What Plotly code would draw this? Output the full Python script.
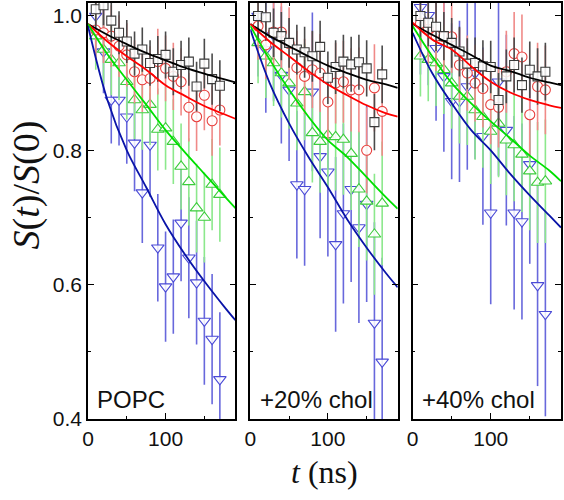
import plotly.graph_objects as go

# ---------------- data ----------------
t_pts = [10, 20, 30, 40, 50, 60, 70, 80, 90, 100, 110, 120, 130, 140, 150, 160, 170]
t_fit = [0, 25, 50, 75, 100, 125, 150, 175, 190]

panel_labels = ["POPC", "+20% chol", "+40% chol"]

# Panel 1: POPC
p1_black = [1.01, 1.016, 0.993, 0.975, 0.962, 0.944, 0.950, 0.930, 0.936, 0.942, 0.917, 0.927, 0.932, 0.895, 0.929, 0.906, 0.896]
p1_red = [0.979, 0.975, 0.970, 0.955, 0.942, 0.917, 0.905, 0.907, 0.932, 0.922, 0.910, 0.902, 0.864, 0.850, 0.882, 0.844, 0.860]
p1_green = [0.970, 0.950, 0.935, 0.930, 0.902, 0.875, 0.860, 0.868, 0.831, 0.833, 0.813, 0.776, 0.753, 0.714, 0.700, 0.749, 0.734]
p1_blue = [1.000, 0.947, 0.875, 0.875, 0.850, 0.811, 0.737, 0.808, 0.655, 0.597, 0.612, 0.692, 0.640, 0.603, 0.546, 0.519, 0.459]
p1_black_err = [0.030, 0.030, 0.031, 0.032, 0.032, 0.033, 0.033, 0.034, 0.034, 0.035, 0.035, 0.036, 0.036, 0.037, 0.037, 0.038, 0.038]
p1_red_err = [0.045, 0.045, 0.046, 0.046, 0.047, 0.047, 0.048, 0.048, 0.049, 0.049, 0.050, 0.050, 0.051, 0.051, 0.052, 0.052, 0.053]
p1_green_err = [0.050, 0.052, 0.053, 0.055, 0.056, 0.058, 0.059, 0.060, 0.061, 0.062, 0.063, 0.064, 0.065, 0.066, 0.067, 0.068, 0.070]
p1_blue_err = [0.060, 0.062, 0.065, 0.068, 0.070, 0.072, 0.075, 0.077, 0.080, 0.082, 0.085, 0.087, 0.090, 0.092, 0.095, 0.097, 0.100]
p1_black_fit = [0.988, 0.972, 0.958, 0.945, 0.934, 0.923, 0.914, 0.906, 0.901]
p1_red_fit = [0.988, 0.962, 0.940, 0.920, 0.897, 0.881, 0.866, 0.854, 0.847]
p1_green_fit = [0.988, 0.943, 0.905, 0.868, 0.830, 0.797, 0.765, 0.733, 0.714]
p1_blue_fit = [0.985, 0.875, 0.800, 0.745, 0.690, 0.645, 0.605, 0.568, 0.547]

# Panel 2: +20% chol
p2_black = [1.000, 0.998, 0.975, 0.970, 0.960, 0.950, 0.946, 0.940, 0.954, 0.908, 0.924, 0.932, 0.928, 0.931, 0.922, 0.842, 0.913]
p2_red = [0.985, 0.957, 0.976, 0.976, 0.959, 0.923, 0.910, 0.920, 0.915, 0.872, 0.900, 0.902, 0.890, 0.890, 0.800, 0.893, 0.858]
p2_green = [0.960, 0.940, 0.930, 0.915, 0.900, 0.870, 0.887, 0.826, 0.813, 0.823, 0.820, 0.816, 0.795, 0.742, 0.724, 0.675, 0.721]
p2_blue = [1.000, 0.950, 0.971, 0.912, 0.890, 0.749, 0.742, 0.887, 0.791, 0.768, 0.660, 0.706, 0.742, 0.685, 0.720, 0.543, 0.485]
p2_black_err = [0.035, 0.035, 0.036, 0.036, 0.037, 0.037, 0.038, 0.038, 0.039, 0.039, 0.040, 0.040, 0.041, 0.041, 0.042, 0.042, 0.043]
p2_red_err = [0.050, 0.051, 0.052, 0.053, 0.054, 0.055, 0.056, 0.057, 0.058, 0.059, 0.060, 0.061, 0.062, 0.063, 0.064, 0.065, 0.066]
p2_green_err = [0.060, 0.062, 0.064, 0.066, 0.068, 0.070, 0.072, 0.074, 0.076, 0.078, 0.080, 0.082, 0.084, 0.086, 0.088, 0.090, 0.092]
p2_blue_err = [0.090, 0.094, 0.098, 0.102, 0.106, 0.110, 0.114, 0.118, 0.122, 0.126, 0.130, 0.134, 0.138, 0.142, 0.146, 0.150, 0.155]
p2_black_fit = [0.988, 0.970, 0.955, 0.940, 0.926, 0.915, 0.905, 0.898, 0.893]
p2_red_fit = [0.988, 0.962, 0.940, 0.918, 0.898, 0.882, 0.867, 0.855, 0.850]
p2_green_fit = [0.985, 0.935, 0.890, 0.850, 0.815, 0.790, 0.760, 0.730, 0.713]
p2_blue_fit = [0.980, 0.900, 0.840, 0.790, 0.745, 0.697, 0.655, 0.617, 0.596]

# Panel 3: +40% chol
p3_black = [1.000, 0.990, 0.984, 0.970, 0.960, 0.947, 0.929, 0.930, 0.925, 0.924, 0.875, 0.910, 0.927, 0.897, 0.920, 0.910, 0.917]
p3_red = [0.989, 0.980, 0.970, 0.969, 0.969, 0.927, 0.915, 0.900, 0.892, 0.868, 0.864, 0.917, 0.944, 0.939, 0.853, 0.895, 0.890]
p3_green = [0.940, 0.935, 0.930, 0.920, 0.900, 0.880, 0.880, 0.860, 0.850, 0.828, 0.840, 0.815, 0.808, 0.794, 0.769, 0.752, 0.754]
p3_blue = [1.013, 1.001, 0.952, 0.910, 0.873, 0.873, 0.895, 0.915, 0.821, 0.707, 0.902, 0.830, 0.707, 0.694, 0.779, 0.599, 0.556]
p3_black_err = [0.035, 0.035, 0.036, 0.036, 0.037, 0.037, 0.038, 0.038, 0.039, 0.039, 0.040, 0.040, 0.041, 0.041, 0.042, 0.042, 0.043]
p3_red_err = [0.050, 0.051, 0.052, 0.053, 0.054, 0.055, 0.056, 0.057, 0.058, 0.059, 0.060, 0.061, 0.062, 0.063, 0.064, 0.065, 0.066]
p3_green_err = [0.060, 0.062, 0.064, 0.066, 0.068, 0.070, 0.072, 0.074, 0.076, 0.078, 0.080, 0.082, 0.084, 0.086, 0.088, 0.090, 0.092]
p3_blue_err = [0.100, 0.104, 0.108, 0.112, 0.116, 0.120, 0.124, 0.128, 0.132, 0.136, 0.140, 0.142, 0.144, 0.146, 0.148, 0.150, 0.152]
p3_black_fit = [0.988, 0.972, 0.957, 0.942, 0.926, 0.918, 0.908, 0.901, 0.897]
p3_red_fit = [0.990, 0.965, 0.950, 0.925, 0.902, 0.886, 0.875, 0.867, 0.863]
p3_green_fit = [0.985, 0.940, 0.900, 0.870, 0.843, 0.818, 0.792, 0.770, 0.754]
p3_blue_fit = [0.975, 0.915, 0.870, 0.830, 0.800, 0.765, 0.733, 0.703, 0.685]

# ---------------- styles ----------------
series_style = {
    "black": dict(symbol="square", mcol="#3a3a3a", ecol="#4a4a4a", lcol="#000000", size=9),
    "red": dict(symbol="circle", mcol="#e8413f", ecol="#f08a88", lcol="#ff0000", size=10),
    "green": dict(symbol="triangle-up", mcol="#3ccc3c", ecol="#8ce88c", lcol="#00e000", size=11),
    "blue": dict(symbol="triangle-down", mcol="#4a4ad6", ecol="#6868dc", lcol="#0a14a8", size=11),
}

panels = [
    dict(pts={"black": (p1_black, p1_black_err), "red": (p1_red, p1_red_err),
              "green": (p1_green, p1_green_err), "blue": (p1_blue, p1_blue_err)},
         fits={"black": p1_black_fit, "red": p1_red_fit, "green": p1_green_fit, "blue": p1_blue_fit}),
    dict(pts={"black": (p2_black, p2_black_err), "red": (p2_red, p2_red_err),
              "green": (p2_green, p2_green_err), "blue": (p2_blue, p2_blue_err)},
         fits={"black": p2_black_fit, "red": p2_red_fit, "green": p2_green_fit, "blue": p2_blue_fit}),
    dict(pts={"black": (p3_black, p3_black_err), "red": (p3_red, p3_red_err),
              "green": (p3_green, p3_green_err), "blue": (p3_blue, p3_blue_err)},
         fits={"black": p3_black_fit, "red": p3_red_fit, "green": p3_green_fit, "blue": p3_blue_fit}),
]

W, H = 564, 500
ML, MR, MT, MB = 88, 1, 1, 81
pw = W - ML - MR
ph = H - MT - MB
px_left = [88, 251, 414]
px_right = [236, 399, 563]
domains = [[(l - ML) / pw, (r - ML) / pw] for l, r in zip(px_left, px_right)]

fig = go.Figure()
order = ["blue", "green", "red", "black"]
for i, p in enumerate(panels):
    xa = "x" if i == 0 else f"x{i+1}"
    ya = "y" if i == 0 else f"y{i+1}"
    for name in order:
        st = series_style[name]
        s, e = p["pts"][name]
        fig.add_trace(go.Scatter(
            x=t_pts, y=s, mode="markers", xaxis=xa, yaxis=ya, showlegend=False,
            marker=dict(symbol=st["symbol"], size=st["size"], color="rgba(255,255,255,0.85)",
                        line=dict(color=st["mcol"], width=1.1)),
            error_y=dict(type="data", array=e, visible=True, color=st["ecol"], thickness=1.6, width=0),
        ))
    for name in ["black", "red", "green", "blue"]:
        st = series_style[name]
        fig.add_trace(go.Scatter(
            x=t_fit, y=p["fits"][name], mode="lines", xaxis=xa, yaxis=ya, showlegend=False,
            line=dict(color=st["lcol"], width=1.8, shape="spline"),
        ))

tick_font = dict(family="Liberation Sans, Arial, sans-serif", size=21, color="#111")
for i in range(3):
    xk = "xaxis" if i == 0 else f"xaxis{i+1}"
    yk = "yaxis" if i == 0 else f"yaxis{i+1}"
    anchor_y = "y" if i == 0 else f"y{i+1}"
    anchor_x = "x" if i == 0 else f"x{i+1}"
    fig.layout[xk] = dict(
        domain=domains[i], anchor=anchor_y, range=[0, 190], tick0=0, dtick=100,
        ticks="inside", ticklen=6, tickwidth=1.2, tickcolor="#000",
        showline=True, linecolor="#000", linewidth=1.5, mirror="ticks",
        showgrid=False, zeroline=False, tickfont=tick_font,
        minor=dict(dtick=50, tick0=0, ticks="inside", ticklen=3, tickwidth=1.2, tickcolor="#000", showgrid=False),
    )
    fig.layout[yk] = dict(
        domain=[0, 1], anchor=anchor_x, range=[0.4, 1.0193], tick0=0.4, dtick=0.2,
        ticks="inside", ticklen=6, tickwidth=1.2, tickcolor="#000",
        showline=True, linecolor="#000", linewidth=1.5, mirror="ticks",
        showgrid=False, zeroline=False, tickfont=tick_font, tickformat=".1f",
        showticklabels=(i == 0),
        minor=dict(dtick=0.1, tick0=0.4, ticks="inside", ticklen=3, tickwidth=1.2, tickcolor="#000", showgrid=False),
    )
    fig.add_annotation(
        text=panel_labels[i], xref=f"{'x' if i == 0 else 'x' + str(i+1)} domain",
        yref=f"{'y' if i == 0 else 'y' + str(i+1)} domain", x=0.05, y=0.01,
        xanchor="left", yanchor="bottom", showarrow=False,
        font=dict(family="Liberation Sans, Arial, sans-serif", size=24, color="#111"),
    )

fig.add_annotation(
    text="<i>S</i>(<i>t</i>)/<i>S</i>(0)", xref="paper", yref="paper",
    x=(26 - ML) / pw, y=(H - MB - 184) / ph, xanchor="center", yanchor="middle",
    textangle=-90, showarrow=False,
    font=dict(family="Liberation Serif, Times New Roman, serif", size=38, color="#111"),
)
fig.add_annotation(
    text="<i>t</i> (ns)", xref="paper", yref="paper",
    x=(325 - ML) / pw, y=(H - MB - 472) / ph, xanchor="center", yanchor="middle",
    showarrow=False,
    font=dict(family="Liberation Serif, Times New Roman, serif", size=32, color="#111"),
)

fig.update_layout(
    width=W, height=H, margin=dict(l=ML, r=MR, t=MT, b=MB),
    paper_bgcolor="white", plot_bgcolor="white",
)
fig.write_html("out.html", config={"displayModeBar": False},
               post_script="document.body.style.margin='0';document.body.style.overflow='hidden';")
